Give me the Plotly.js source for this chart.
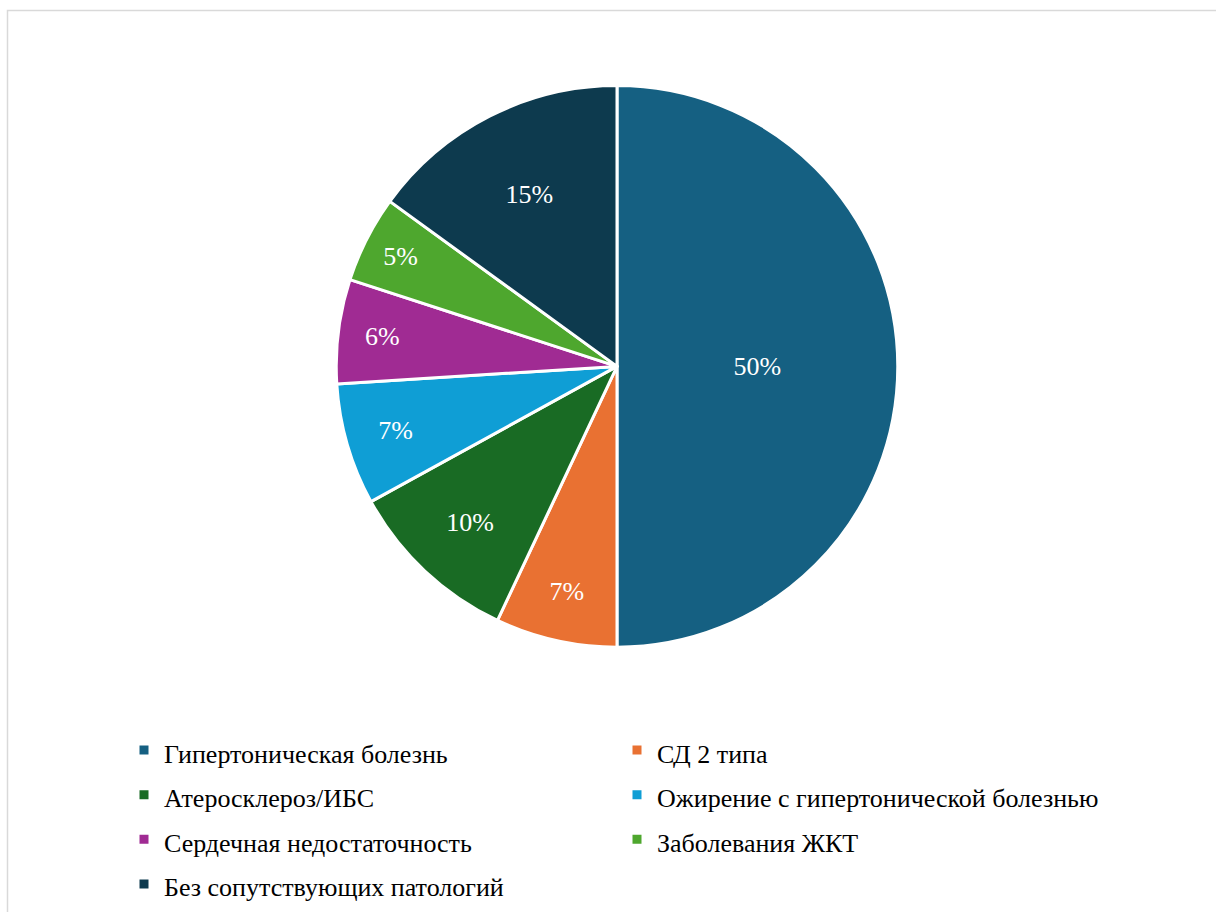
<!DOCTYPE html>
<html>
<head>
<meta charset="utf-8">
<script src="https://cdn.plot.ly/plotly-3.0.1.min.js"></script>
</head>
<body style="margin:0;padding:0;background:#fff;">
<div id="chart"></div>
<script>
const categories = [
  "Гипертоническая болезнь",
  "СД 2 типа",
  "Атеросклероз/ИБС",
  "Ожирение с гипертонической болезнью",
  "Сердечная недостаточность",
  "Заболевания ЖКТ",
  "Без сопутствующих патологий"
];
const values = [50, 7, 10, 7, 6, 5, 15];
const colors = ["#156082", "#E97132", "#196B24", "#0F9ED5", "#A02B93", "#4EA72E", "#0D3A4E"];

const W = 1216, H = 912;
const SERIF = 'Liberation Serif';
const legendLabels = categories.map(c => '<span style="font-size:26px">' + c + '</span>');

const trace = {
  type: 'pie',
  labels: legendLabels,
  values: values,
  sort: false,
  direction: 'clockwise',
  rotation: 0,
  marker: {colors: colors, line: {color: '#ffffff', width: 3}},
  textinfo: 'percent',
  texttemplate: '%{percent:.0%}',
  textposition: 'inside',
  insidetextorientation: 'horizontal',
  textfont: {family: SERIF, size: 26, color: '#ffffff'},
  hoverinfo: 'label+percent',
  domain: {x: [335 / W, 899 / W], y: [1 - 650 / H, 1 - 86 / H]}
};

const layout = {
  width: W, height: H,
  margin: {l: 0, r: 0, t: 0, b: 0},
  paper_bgcolor: '#ffffff',
  font: {family: SERIF, size: 26, color: '#000000'},
  showlegend: true,
  legend: {
    orientation: 'h',
    x: 124 / W, xanchor: 'left',
    y: 1 - 726 / H, yanchor: 'top',
    entrywidth: 448,
    font: {family: SERIF, size: 32, color: '#000000'},
    traceorder: 'normal'
  },
  shapes: [{
    type: 'rect', xref: 'paper', yref: 'paper',
    x0: 7.5 / W, x1: 1.05, y0: -0.05, y1: 1 - 10.5 / H,
    line: {color: '#d9d9d9', width: 1.5}
  }]
};

Plotly.newPlot('chart', [trace], layout, {displayModeBar: false});
</script>
</body>
</html>
